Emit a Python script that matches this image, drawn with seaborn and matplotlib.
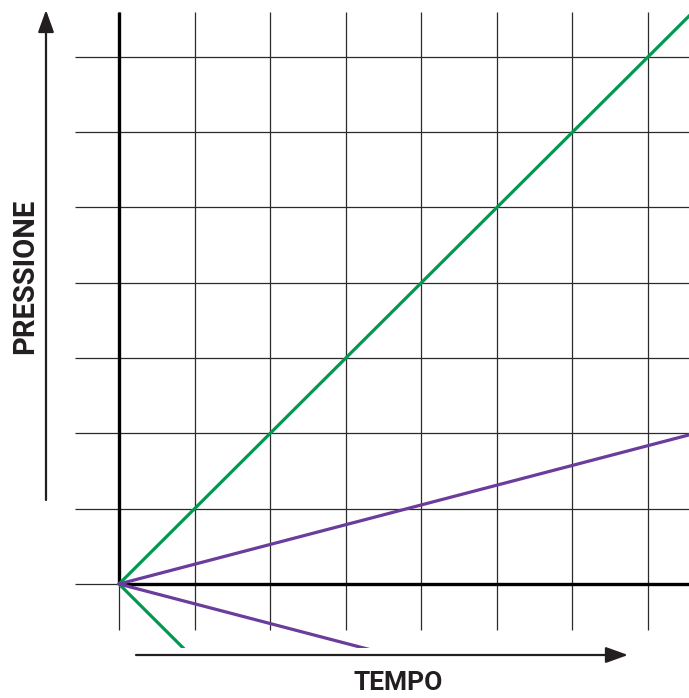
# ---------------------------------------------
# Pressione vs Tempo - grafico a griglia
# ---------------------------------------------

import pandas as pd
import matplotlib.pyplot as plt
import seaborn as sns

sns.set_style("white")
plt.rcParams['font.family'] = ['Roboto', 'DejaVu Sans']

# -------------------------
# Data
# -------------------------
grid_x = [0, 1, 2, 3, 4, 5, 6, 7]
grid_y = [0, 1, 2, 3, 4, 5, 6, 7]

green_up_t = [0, 8]
green_up_p = [0, 8]
green_down_t = [0, 1.5]
green_down_p = [0, -1.5]
purple_up_t = [0, 8]
purple_up_p = [0, 2.1]
purple_down_t = [0, 4]
purple_down_p = [0, -1.05]

x_label = "TEMPO"
y_label = "PRESSIONE"

GREEN = "#00994F"
PURPLE = "#6A3C9C"
INK = "#231F20"

lines = pd.concat([
    pd.DataFrame({'tempo': green_up_t, 'pressione': green_up_p, 'curva': 'verde su'}),
    pd.DataFrame({'tempo': green_down_t, 'pressione': green_down_p, 'curva': 'verde giu'}),
    pd.DataFrame({'tempo': purple_up_t, 'pressione': purple_up_p, 'curva': 'viola su'}),
    pd.DataFrame({'tempo': purple_down_t, 'pressione': purple_down_p, 'curva': 'viola giu'}),
])
palette = {'verde su': GREEN, 'verde giu': GREEN, 'viola su': PURPLE, 'viola giu': PURPLE}

# -------------------------
# Figure
# -------------------------
W, H = 689, 698
fig = plt.figure(figsize=(W / 100, H / 100), dpi=100)
ax = fig.add_axes([0, 50 / H, 1, 648 / H])

ux, uy = 75.57, 75.3   # pixels per grid unit
x0, y0 = 119, 584      # origin in pixels
ax.set_xlim(-x0 / ux, (W - x0) / ux)
ax.set_ylim(-(648 - y0) / uy, y0 / uy)

top = (y0 - 12) / uy
bottom = -(630 - y0) / uy
left = -(x0 - 75) / ux
right = (W - x0) / ux

# thin grid
ax.vlines(grid_x, bottom, top, color="#2b2b2b", lw=0.9, zorder=1)
ax.hlines(grid_y, left, right, color="#2b2b2b", lw=0.9, zorder=1)

# curves
sns.lineplot(data=lines, x='tempo', y='pressione', hue='curva', palette=palette,
             lw=2.3, legend=False, sort=False, estimator=None, ax=ax, zorder=3)

# thick axes in the positive quadrant
ax.vlines(0, 0, top, color='black', lw=2.4, zorder=2)
ax.hlines(0, 0, right, color='black', lw=2.4, zorder=2)

ax.set_xlabel('')
ax.set_ylabel('')
ax.set_xticks([])
ax.set_yticks([])
sns.despine(ax=ax, left=True, bottom=True)

# -------------------------
# Arrows and labels
# -------------------------
arrow = dict(arrowstyle='-|>,head_length=0.5,head_width=0.18', color=INK,
             lw=1.6, mutation_scale=27, shrinkA=0, shrinkB=0)
ax.annotate('', xy=(-(x0 - 46) / ux, (y0 - 10) / uy),
            xytext=(-(x0 - 46) / ux, (y0 - 500) / uy),
            arrowprops=arrow, annotation_clip=False)
ax.annotate('', xy=((628 - x0) / ux, -(655 - y0) / uy),
            xytext=((136 - x0) / ux, -(655 - y0) / uy),
            arrowprops=arrow, annotation_clip=False)

fig.text(33 / W, 1 - 276 / H, y_label, rotation=90, rotation_mode='anchor',
         ha='center', va='baseline', fontsize=21, fontweight='bold', color=INK)
fig.text(398 / W, 1 - 690 / H, x_label, ha='center', va='baseline',
         fontsize=19, fontweight='bold', color=INK)

fig.savefig("out.png", dpi=100)
plt.close()
